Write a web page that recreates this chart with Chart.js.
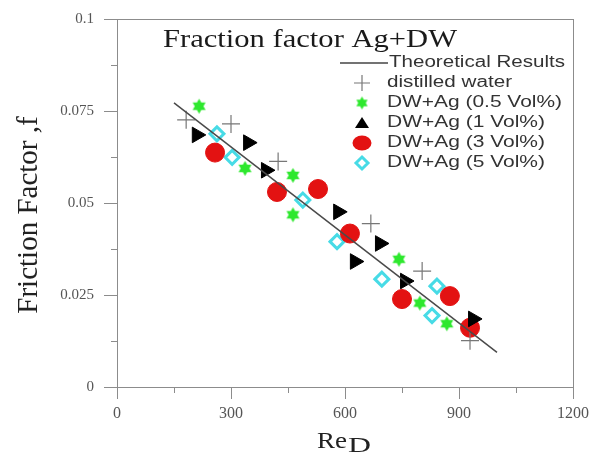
<!DOCTYPE html>
<html>
<head>
<meta charset="utf-8">
<script src="https://cdn.jsdelivr.net/npm/chart.js@4.4.1/dist/chart.umd.min.js"></script>
<style>
  html, body { margin: 0; padding: 0; background: #fff; }
</style>
</head>
<body>
<canvas id="myChart" width="594" height="458"></canvas>
<script>
// datos
const reTeorico = [150, 1000];
const fTeorico = [0.0772, 0.0094];

const reAgua = [182, 300, 424, 668, 803, 929];
const fAgua = [0.0726, 0.0715, 0.0613, 0.0444, 0.0315, 0.0126];

const reAg05 = [216, 337, 463, 463, 742, 797, 868];
const fAg05 = [0.0763, 0.0594, 0.0575, 0.0468, 0.0347, 0.0228, 0.0172];

const reAg1 = [210, 345, 392, 582, 626, 692, 758, 937];
const fAg1 = [0.0685, 0.0664, 0.0589, 0.0476, 0.0341, 0.0390, 0.0288, 0.0185];

const reAg3 = [258, 421, 529, 613, 750, 876, 929];
const fAg3 = [0.0637, 0.0530, 0.0538, 0.0417, 0.0239, 0.0247, 0.0161];

const reAg5 = [263, 303, 489, 579, 697, 829, 842];
const fAg5 = [0.0688, 0.0624, 0.0508, 0.0395, 0.0293, 0.0194, 0.0274];

const etiquetas = ["Theoretical Results", "distilled water", "DW+Ag (0.5 Vol%)",
                   "DW+Ag (1 Vol%)", "DW+Ag (3 Vol%)", "DW+Ag (5 Vol%)"];
const menoresX = [150, 450, 750, 1050];
const menoresY = [0.0125, 0.0375, 0.0625, 0.0875];

const pares = (xs, ys) => xs.map((x, i) => ({ x: x, y: ys[i] }));

// estrella verde de 6 puntas
function hacerEstrella(r, color) {
    const c = document.createElement('canvas');
    const s = Math.ceil(r * 2 + 2);
    c.width = s; c.height = s;
    const g = c.getContext('2d');
    g.fillStyle = color;
    g.beginPath();
    for (let i = 0; i < 12; i++) {
        const a = -Math.PI / 2 + i * Math.PI / 6;
        const rr = i % 2 === 0 ? r : r * 0.58;
        g.lineTo(s / 2 + rr * Math.cos(a), s / 2 + rr * Math.sin(a));
    }
    g.closePath();
    g.fill();
    return c;
}
const estrella = hacerEstrella(7.5, '#2ee82e');
const estrellaChica = hacerEstrella(6.5, '#2ee82e');

// texto estirado a un ancho dado
function textoAjustado(ctx, txt, x, y, ancho, font, color) {
    ctx.save();
    ctx.font = font;
    ctx.fillStyle = color;
    ctx.textAlign = 'left';
    ctx.textBaseline = 'middle';
    const w = ctx.measureText(txt).width;
    ctx.translate(x, y);
    ctx.scale(ancho / w, 1);
    ctx.fillText(txt, 0, 0);
    ctx.restore();
}

const pluginFigura = {
    id: 'pluginFigura',
    beforeDatasetsDraw(chart) {
        const ctx = chart.ctx;
        const a = chart.chartArea;
        const sx = chart.scales.x, sy = chart.scales.y;
        ctx.save();
        ctx.strokeStyle = '#8c8c8c';
        ctx.lineWidth = 1;
        ctx.strokeRect(a.left + 0.5, a.top + 0.5, a.right - a.left, a.bottom - a.top);
        // ticks menores
        ctx.beginPath();
        menoresX.forEach(v => {
            const px = Math.round(sx.getPixelForValue(v)) + 0.5;
            ctx.moveTo(px, a.bottom);
            ctx.lineTo(px, a.bottom + 6);
        });
        menoresY.forEach(v => {
            const py = Math.round(sy.getPixelForValue(v)) + 0.5;
            ctx.moveTo(a.left, py);
            ctx.lineTo(a.left - 6, py);
        });
        ctx.stroke();
        ctx.restore();
    },
    afterDraw(chart) {
        const ctx = chart.ctx;
        // titulo
        ctx.save();
        ctx.font = '26px "Liberation Serif"';
        ctx.fillStyle = '#1a1a1a';
        ctx.textBaseline = 'alphabetic';
        let w = ctx.measureText('Fraction factor Ag+DW').width;
        ctx.translate(163, 47);
        ctx.scale(294 / w, 1);
        ctx.fillText('Fraction factor Ag+DW', 0, 0);
        ctx.restore();

        // eje y
        ctx.save();
        ctx.font = '29px "Liberation Serif"';
        ctx.fillStyle = '#222';
        ctx.textAlign = 'center';
        ctx.textBaseline = 'alphabetic';
        ctx.translate(37, 215);
        ctx.rotate(-Math.PI / 2);
        ctx.fillText('Friction Factor ,f', 0, 0);
        ctx.restore();

        // eje x: Re con subindice D
        ctx.save();
        ctx.fillStyle = '#222';
        ctx.textBaseline = 'alphabetic';
        ctx.font = '24px "Liberation Serif"';
        w = ctx.measureText('Re').width;
        ctx.save();
        ctx.translate(317, 448);
        ctx.scale(30 / w, 1);
        ctx.fillText('Re', 0, 0);
        ctx.restore();
        ctx.font = '21px "Liberation Serif"';
        w = ctx.measureText('D').width;
        ctx.translate(348, 452);
        ctx.scale(23 / w, 1);
        ctx.fillText('D', 0, 0);
        ctx.restore();

        // leyenda
        const filas = [63, 83, 103, 123, 143, 163];
        const anchos = [176, 125, 175, 158, 158, 158];
        const mx = 362;
        ctx.save();
        ctx.strokeStyle = '#444';
        ctx.lineWidth = 1.5;
        ctx.beginPath();
        ctx.moveTo(340, filas[0]);
        ctx.lineTo(388, filas[0]);
        ctx.stroke();

        ctx.strokeStyle = '#777';
        ctx.lineWidth = 1.2;
        ctx.beginPath();
        ctx.moveTo(mx - 8, filas[1]); ctx.lineTo(mx + 8, filas[1]);
        ctx.moveTo(mx, filas[1] - 8); ctx.lineTo(mx, filas[1] + 8);
        ctx.stroke();

        ctx.drawImage(estrellaChica, mx - estrellaChica.width / 2, filas[2] - estrellaChica.height / 2);

        ctx.fillStyle = '#000';
        ctx.beginPath();
        ctx.moveTo(mx, filas[3] - 6);
        ctx.lineTo(mx + 7, filas[3] + 5);
        ctx.lineTo(mx - 7, filas[3] + 5);
        ctx.closePath();
        ctx.fill();

        ctx.fillStyle = '#e31212';
        ctx.beginPath();
        ctx.ellipse(mx, filas[4], 9.5, 7.5, 0, 0, Math.PI * 2);
        ctx.fill();

        ctx.strokeStyle = '#47dbe6';
        ctx.lineWidth = 3;
        ctx.fillStyle = '#fff';
        ctx.beginPath();
        ctx.moveTo(mx, filas[5] - 6);
        ctx.lineTo(mx + 6, filas[5]);
        ctx.lineTo(mx, filas[5] + 6);
        ctx.lineTo(mx - 6, filas[5]);
        ctx.closePath();
        ctx.fill();
        ctx.stroke();
        ctx.restore();

        etiquetas.forEach((t, i) => {
            textoAjustado(ctx, t, i === 0 ? 389 : 387, filas[i], anchos[i], '16px "Liberation Sans"', '#333');
        });
    }
};

const datos = {
    datasets: [
        {
            type: 'line',
            label: etiquetas[0],
            data: pares(reTeorico, fTeorico),
            borderColor: '#4a4a4a',
            borderWidth: 1.5,
            pointRadius: 0,
            fill: false
        },
        {
            label: etiquetas[1],
            data: pares(reAgua, fAgua),
            pointStyle: 'cross',
            pointRadius: 9,
            borderColor: '#777',
            borderWidth: 1.2
        },
        {
            label: etiquetas[2],
            data: pares(reAg05, fAg05),
            pointStyle: estrella,
            pointRadius: 8
        },
        {
            label: etiquetas[3],
            data: pares(reAg1, fAg1),
            pointStyle: 'triangle',
            rotation: 90,
            pointRadius: 9,
            backgroundColor: '#000',
            borderColor: '#000',
            borderWidth: 1
        },
        {
            label: etiquetas[4],
            data: pares(reAg3, fAg3),
            pointStyle: 'circle',
            pointRadius: 9.5,
            backgroundColor: '#e31212',
            borderColor: '#e31212',
            borderWidth: 1
        },
        {
            label: etiquetas[5],
            data: pares(reAg5, fAg5),
            pointStyle: 'rectRot',
            pointRadius: 7,
            backgroundColor: '#fff',
            borderColor: '#47dbe6',
            borderWidth: 3
        }
    ]
};

const opciones = {
    responsive: false,
    animation: false,
    layout: { padding: { top: 15, right: 21, left: 0, bottom: 0 } },
    plugins: {
        legend: { display: false },
        tooltip: { enabled: false }
    },
    scales: {
        x: {
            type: 'linear',
            min: 0,
            max: 1200,
            afterFit: s => { s.height = 71; },
            ticks: {
                stepSize: 300,
                padding: 5,
                color: '#555',
                font: { family: '"Liberation Serif"', size: 16 },
                callback: v => String(v)
            },
            grid: { drawOnChartArea: false, tickLength: 12, color: '#8c8c8c' },
            border: { color: '#8c8c8c' }
        },
        y: {
            type: 'linear',
            min: 0,
            max: 0.1,
            afterFit: s => { s.width = 117; },
            ticks: {
                stepSize: 0.025,
                padding: 10,
                color: '#555',
                font: { family: '"Liberation Serif"', size: 15 },
                callback: v => String(parseFloat(v.toFixed(4)))
            },
            grid: { drawOnChartArea: false, tickLength: 13, color: '#8c8c8c' },
            border: { color: '#8c8c8c' }
        }
    }
};

const grafico = new Chart("myChart", { type: 'scatter', data: datos, options: opciones, plugins: [pluginFigura] });
</script>
</body>
</html>
